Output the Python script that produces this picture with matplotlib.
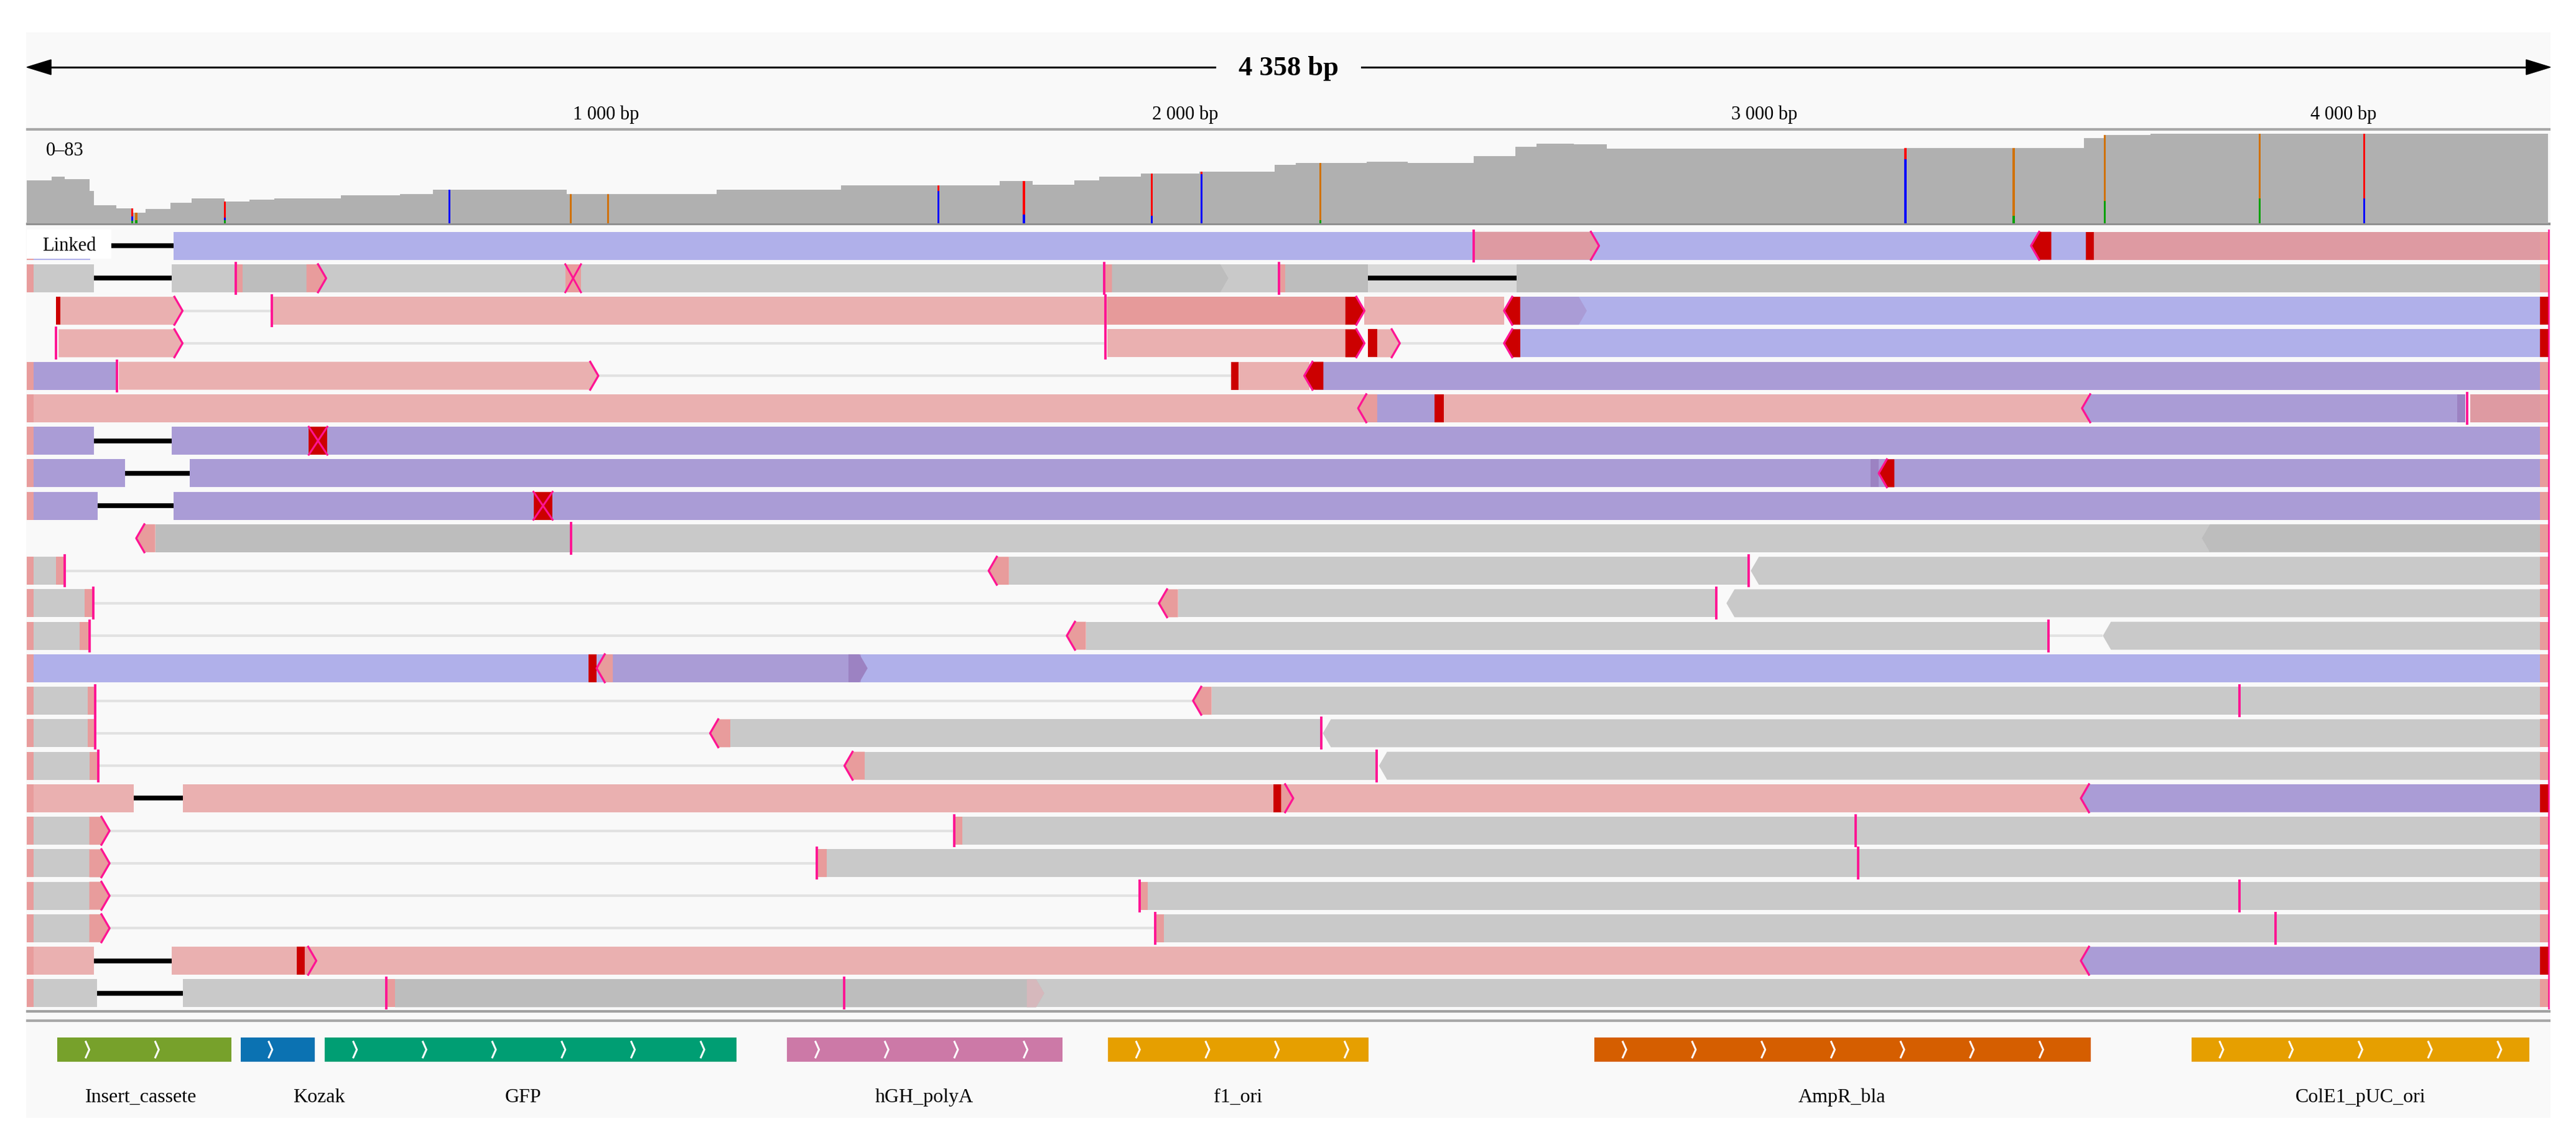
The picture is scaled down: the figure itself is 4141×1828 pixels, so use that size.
import numpy as np
import matplotlib.pyplot as plt
from matplotlib.patches import Rectangle, Polygon

plt.rcParams['font.family'] = ['Liberation Serif', 'DejaVu Serif']

W, H = 4141, 1828
GENOME = 4358

# coverage track (read depth, scale 0-83), step edges in bp
cov_edges = [0, 43, 66, 109, 116, 155, 184, 205, 248, 285, 342, 385, 428, 543, 644, 701, 932,
             1191, 1406, 1680, 1737, 1809, 1852, 1924, 2025, 2155, 2191, 2314, 2385, 2499,
             2571, 2607, 2671, 2728, 3244, 3552, 3588, 3667, 4354]
cov_depth = [40, 43, 41, 30, 17, 14, 10, 13, 19, 23, 20, 22, 23, 26, 27, 31, 27,
             31, 35, 39, 36, 40, 43, 46, 48, 54, 56, 57, 56, 62,
             71, 74, 73, 69, 70, 79, 82, 83]

# mismatch columns in the coverage track, allele fractions
mm_pos = [182, 189, 342, 730, 939, 1004, 1574, 1722, 1943, 2029, 2234, 3244, 3431, 3588, 3856, 4036]
mm_A = [.15, .30, .15, 0, 0, 0, 0, 0, 0, 0, .05, 0, .10, .25, .28, 0]
mm_C = [.30, 0, .10, 1, 0, 0, .85, .20, .15, .95, 0, .85, 0, 0, 0, .28]
mm_G = [0, .70, 0, 0, 1, 1, 0, 0, 0, 0, .95, 0, .90, .75, .72, 0]
mm_T = [.55, 0, .75, 0, 0, 0, .15, .80, .85, .05, 0, .15, 0, 0, 0, .72]

# annotation track
feat_names = ['Insert_cassete', 'Kozak', 'GFP', 'hGH_polyA', 'f1_ori', 'AmpR_bla', 'ColE1_pUC_ori']
feat_start = [53, 369, 515, 1313, 1867, 2707, 3738]
feat_end = [353, 497, 1226, 1788, 2317, 3564, 4322]
feat_label_x = [197, 505, 857, 1550, 2092, 3135, 4030]
feat_colors = ['#77a12b', '#0b72b2', '#009e73', '#cc79a7', '#e69f00', '#d55e00', '#e69f00']

# reads, one list per row: (kind, start bp, end bp); later pieces overlay earlier ones
rows = [
    [('clip', 0, 12), ('blue', 12, 110), ('line', 110, 253), ('blue', 253, 3556), ('mauve>', 2499, 2715),
     ('mark', 2499, 2499), ('red<', 3461, 3496), ('red', 3556, 3570), ('mauve', 3570, 4340), ('clip', 4340, 4356)],
    [('clip', 0, 12), ('gray', 12, 116), ('line', 116, 250), ('gray', 250, 1861), ('insL', 361, 373),
     ('dgray', 373, 483), ('pa>', 483, 517), ('px', 930, 957), ('insL', 1861, 1874), ('gray', 1874, 2316),
     ('dgray>', 1874, 2075), ('insL', 2162, 2173), ('dgray', 2173, 2316), ('lband', 2316, 2573),
     ('line', 2316, 2573), ('dgray', 2573, 4340), ('clip', 4340, 4356)],
    [('red', 50, 58), ('pink>', 58, 269), ('gap', 269, 423), ('mark', 423, 423), ('pink', 423, 1866),
     ('mark', 1863, 1863), ('dpink', 1866, 2277), ('red>', 2277, 2310), ('pink', 2310, 2551),
     ('blue', 2579, 4340), ('red<', 2551, 2579), ('purple>', 2579, 2694), ('red', 4340, 4356)],
    [('mark', 50, 50), ('pink>', 55, 269), ('gap', 269, 1861), ('mark', 1863, 1863), ('pink', 1866, 2277),
     ('red>', 2277, 2310), ('red', 2316, 2332), ('pink>', 2332, 2371), ('gap', 2371, 2551),
     ('blue', 2565, 4340), ('red<', 2551, 2579), ('red', 4340, 4356)],
    [('clip', 0, 12), ('purple', 12, 156), ('mark', 156, 156), ('pink>', 159, 987), ('gap', 987, 2080),
     ('red', 2080, 2093), ('pink', 2093, 2215), ('purple', 2225, 4340), ('red<', 2206, 2239),
     ('clip', 4340, 4356)],
    [('clip', 0, 12), ('pink', 12, 3560), ('purple', 2315, 2431), ('pa<', 2299, 2332), ('red', 2431, 2447),
     ('purple<', 3549, 4197), ('chev<', 3549, 3549), ('dpurp', 4197, 4211), ('mark', 4214, 4214),
     ('mauve', 4219, 4340), ('clip', 4340, 4356)],
    [('clip', 0, 12), ('purple', 12, 116), ('line', 116, 250), ('purple', 250, 4340), ('x', 487, 519),
     ('clip', 4340, 4356)],
    [('clip', 0, 12), ('purple', 12, 170), ('line', 170, 281), ('purple', 281, 4340), ('dpurp', 3184, 3198),
     ('red<', 3198, 3225), ('clip', 4340, 4356)],
    [('clip', 0, 12), ('purple', 12, 122), ('line', 122, 253), ('purple', 253, 4340), ('x', 875, 908),
     ('clip', 4340, 4356)],
    [('pa<', 189, 222), ('dgray', 222, 940), ('gray', 942, 3770), ('mark', 940, 940), ('dgray<', 3756, 4340),
     ('clip', 4340, 4356)],
    [('clip', 0, 12), ('gray', 12, 50), ('insR', 50, 66), ('gap', 66, 1661), ('pa<', 1661, 1696),
     ('gray', 1696, 2973), ('mark', 2973, 2973), ('gray<', 2977, 4340), ('clip', 4340, 4356)],
    [('clip', 0, 12), ('gray', 12, 100), ('insR', 100, 115), ('gap', 115, 1955), ('pa<', 1955, 1988),
     ('gray', 1988, 2918), ('mark', 2918, 2918), ('gray<', 2935, 4340), ('clip', 4340, 4356)],
    [('clip', 0, 12), ('gray', 12, 91), ('insR', 91, 108), ('gap', 108, 1796), ('pa<', 1796, 1829),
     ('gray', 1829, 3491), ('mark', 3491, 3491), ('gap', 3491, 3585), ('gray<', 3585, 4340),
     ('clip', 4340, 4356)],
    [('clip', 0, 12), ('blue', 12, 4340), ('purple', 1000, 1440), ('red', 970, 984), ('pa<', 984, 1012),
     ('dpurp>', 1419, 1452), ('clip', 4340, 4356)],
    [('clip', 0, 12), ('gray', 12, 105), ('insR', 105, 118), ('gap', 118, 2014), ('pa<', 2014, 2046),
     ('gray', 2046, 4340), ('mark', 3821, 3821), ('clip', 4340, 4356)],
    [('clip', 0, 12), ('gray', 12, 105), ('insR', 105, 118), ('gap', 118, 1180), ('pa<', 1180, 1215),
     ('gray', 1215, 2235), ('mark', 2235, 2235), ('gray<', 2238, 4340), ('clip', 4340, 4356)],
    [('clip', 0, 12), ('gray', 12, 108), ('insR', 108, 123), ('gap', 123, 1412), ('pa<', 1412, 1447),
     ('gray', 1447, 2331), ('mark', 2331, 2331), ('gray<', 2335, 4340), ('clip', 4340, 4356)],
    [('clip', 0, 12), ('pink', 12, 185), ('line', 185, 270), ('pink', 270, 3560), ('red', 2153, 2170),
     ('pa>', 2166, 2187), ('purple<', 3547, 4340), ('chev<', 3547, 3547), ('red', 4340, 4356)],
    [('clip', 0, 12), ('gray', 12, 108), ('pa>', 108, 143), ('gap', 143, 1602), ('insL', 1602, 1616),
     ('gray', 1616, 4340), ('mark', 3158, 3158), ('clip', 4340, 4356)],
    [('clip', 0, 12), ('gray', 12, 108), ('pa>', 108, 143), ('gap', 143, 1364), ('insL', 1364, 1381),
     ('gray', 1381, 4340), ('mark', 3162, 3162), ('clip', 4340, 4356)],
    [('clip', 0, 12), ('gray', 12, 108), ('pa>', 108, 143), ('gap', 143, 1922), ('insL', 1922, 1936),
     ('gray', 1936, 4340), ('mark', 3821, 3821), ('clip', 4340, 4356)],
    [('clip', 0, 12), ('gray', 12, 108), ('pa>', 108, 143), ('gap', 143, 1949), ('insL', 1949, 1964),
     ('gray', 1964, 4340), ('mark', 3883, 3883), ('clip', 4340, 4356)],
    [('clip', 0, 12), ('pink', 12, 116), ('line', 116, 250), ('pink', 250, 3560), ('red', 466, 483),
     ('pa>', 480, 500), ('purple<', 3547, 4340), ('chev<', 3547, 3547), ('red', 4340, 4356)],
    [('clip', 0, 12), ('gray', 12, 121), ('line', 121, 270), ('gray', 270, 4340), ('insL', 621, 636),
     ('dgray>', 636, 1757), ('mark', 1412, 1412), ('ghost>', 1727, 1757), ('clip', 4340, 4356)],
]

COL = {'blue': '#b0b0ea', 'purple': '#aa9cd6', 'dpurp': '#9c82c2', 'pink': '#eab0b0', 'dpink': '#e69a9a',
       'mauve': '#de9aa2', 'gray': '#c9c9c9', 'dgray': '#bdbdbd', 'clip': '#e89c9c', 'pa': '#e89c9c',
       'red': '#cc0000', 'lband': '#d9d9d9', 'ghost': '#d6b8bc'}
HOT = '#ff1493'
BAR = 0.86
TIP = 14

fig = plt.figure(figsize=(W / 100, H / 100), dpi=100)


def px_axes(x0, y0, x1, y1):
    ax = fig.add_axes([x0 / W, 1 - y1 / H, (x1 - x0) / W, (y1 - y0) / H])
    ax.patch.set_alpha(0)
    for sp in ax.spines.values():
        sp.set_visible(False)
    ax.set_xticks([])
    ax.set_yticks([])
    return ax


# background panel in pixel coordinates
bg = px_axes(0, 0, W, H)
bg.set_xlim(0, W)
bg.set_ylim(H, 0)
bg.add_patch(Rectangle((42, 52), 4058, 1745, color='#f9f9f9', lw=0))
for yy, c in [(208, '#a8a8a8'), (360, '#909090'), (1626, '#a0a0a0'), (1641, '#a8a8a8')]:
    bg.plot([42, 4100], [yy, yy], color=c, lw=3, solid_capstyle='butt')
bg.text(74, 243, '0\u201383', fontsize=22, va='center', ha='left')

X0, X1 = 43, 4100

# ruler
ax_r = px_axes(X0, 52, X1, 207)
ax_r.set_xlim(0, GENOME)
ax_r.set_ylim(207, 52)
ax_r.plot([20, GENOME - 20], [108, 108], color='black', lw=2.2)
ax_r.add_patch(Polygon([(0, 108), (42, 96), (42, 120)], color='black'))
ax_r.add_patch(Polygon([(GENOME, 108), (GENOME - 42, 96), (GENOME - 42, 120)], color='black'))
ax_r.text(GENOME / 2, 110, f'{GENOME // 1000} {GENOME % 1000:03d} bp', fontsize=32, fontweight='bold',
          ha='center', va='center', bbox=dict(fc='#f9f9f9', ec='none', pad=26))
for v in [1000, 2000, 3000, 4000]:
    ax_r.text(v, 184, f'{v // 1000} 000 bp', fontsize=22, ha='center', va='center')

# coverage
ax_c = px_axes(X0, 215, X1, 359)
ax_c.set_xlim(0, GENOME)
ax_c.set_ylim(0, 83)
ax_c.stairs(cov_depth, cov_edges, fill=True, color='#b0b0b0', lw=0)
idx = np.searchsorted(cov_edges, mm_pos, side='right') - 1
depth = np.array(cov_depth)[idx]
bottom = np.zeros(len(mm_pos))
for frac, c in [(mm_A, '#00a000'), (mm_C, '#0000ff'), (mm_G, '#d17105'), (mm_T, '#ff0000')]:
    h = depth * np.array(frac)
    ax_c.bar(mm_pos, h, bottom=bottom, width=3.5, color=c, lw=0)
    bottom += h

# reads
ax_a = px_axes(X0, 369, X1, 1623)
ax_a.set_xlim(0, GENOME)
ax_a.set_ylim(len(rows) - 0.5, -0.5)


def chevron(ax, y, x, d):
    top, bot = y - BAR / 2, y + BAR / 2
    dx = -TIP if d == '>' else TIP
    ax.plot([x + dx, x, x + dx], [top, y, bot], color=HOT, lw=2.4, zorder=5)


def draw_piece(ax, y, kind, s, e):
    top, bot = y - BAR / 2, y + BAR / 2
    if kind == 'line':
        ax.plot([s, e], [y, y], color='black', lw=5.5, solid_capstyle='butt', zorder=4)
    elif kind == 'gap':
        ax.plot([s, e], [y, y], color='#e2e2e2', lw=3, solid_capstyle='butt', zorder=1)
    elif kind == 'mark':
        ax.plot([s, s], [top - 0.04, bot + 0.04], color=HOT, lw=2.8, zorder=5)
    elif kind in ('chev<', 'chev>'):
        chevron(ax, y, s, kind[-1])
    elif kind in ('insL', 'insR'):
        ax.add_patch(Rectangle((s, top), e - s, BAR, color=COL['clip'], lw=0, zorder=2))
        xl = s if kind == 'insL' else e
        ax.plot([xl, xl], [top - 0.04, bot + 0.04], color=HOT, lw=2.8, zorder=5)
    elif kind in ('x', 'px'):
        fc = COL['red'] if kind == 'x' else COL['clip']
        ax.add_patch(Rectangle((s, top), e - s, BAR, color=fc, lw=0, zorder=2))
        ax.plot([s, e], [top, bot], color=HOT, lw=2.2, zorder=5)
        ax.plot([s, e], [bot, top], color=HOT, lw=2.2, zorder=5)
    else:
        tip = kind[-1] if kind[-1] in '<>' else None
        base = kind.rstrip('<>')
        if tip == '>':
            verts = [(s, top), (e - TIP, top), (e, y), (e - TIP, bot), (s, bot)]
        elif tip == '<':
            verts = [(s + TIP, top), (e, top), (e, bot), (s + TIP, bot), (s, y)]
        else:
            verts = [(s, top), (e, top), (e, bot), (s, bot)]
        ax.add_patch(Polygon(verts, closed=True, fc=COL[base], ec='none', lw=0, zorder=2))
        if tip and base in ('pink', 'dpink', 'mauve', 'red', 'pa'):
            chevron(ax, y, e if tip == '>' else s, tip)


for i, pieces in enumerate(rows):
    for kind, s, e in pieces:
        draw_piece(ax_a, i, kind, s, e)

ax_a.plot([4355, 4355], [-0.5, len(rows) - 0.5], color=HOT, lw=1.8, zorder=6)
ax_a.add_patch(Rectangle((0, -0.52), 146, 0.92, color='white', lw=0, zorder=8))
ax_a.text(27, 0, 'Linked', fontsize=22, va='center', ha='left', zorder=9)

# annotation track (pixel y)
ax_f = px_axes(X0, 1641, X1, 1797)
ax_f.set_xlim(0, GENOME)
ax_f.set_ylim(1797, 1641)
for name, s, e, lx, c in zip(feat_names, feat_start, feat_end, feat_label_x, feat_colors):
    ax_f.add_patch(Rectangle((s, 1668), e - s, 39, color=c, lw=0))
    for cx in np.arange(s + 55, e - 10, 120):
        ax_f.plot([cx - 6, cx, cx - 6], [1675, 1687.5, 1700], color='white', lw=2.2)
    ax_f.text(lx, 1764, name, fontsize=23, ha='center', va='center')

fig.savefig('out.png', dpi=100, facecolor='white')
